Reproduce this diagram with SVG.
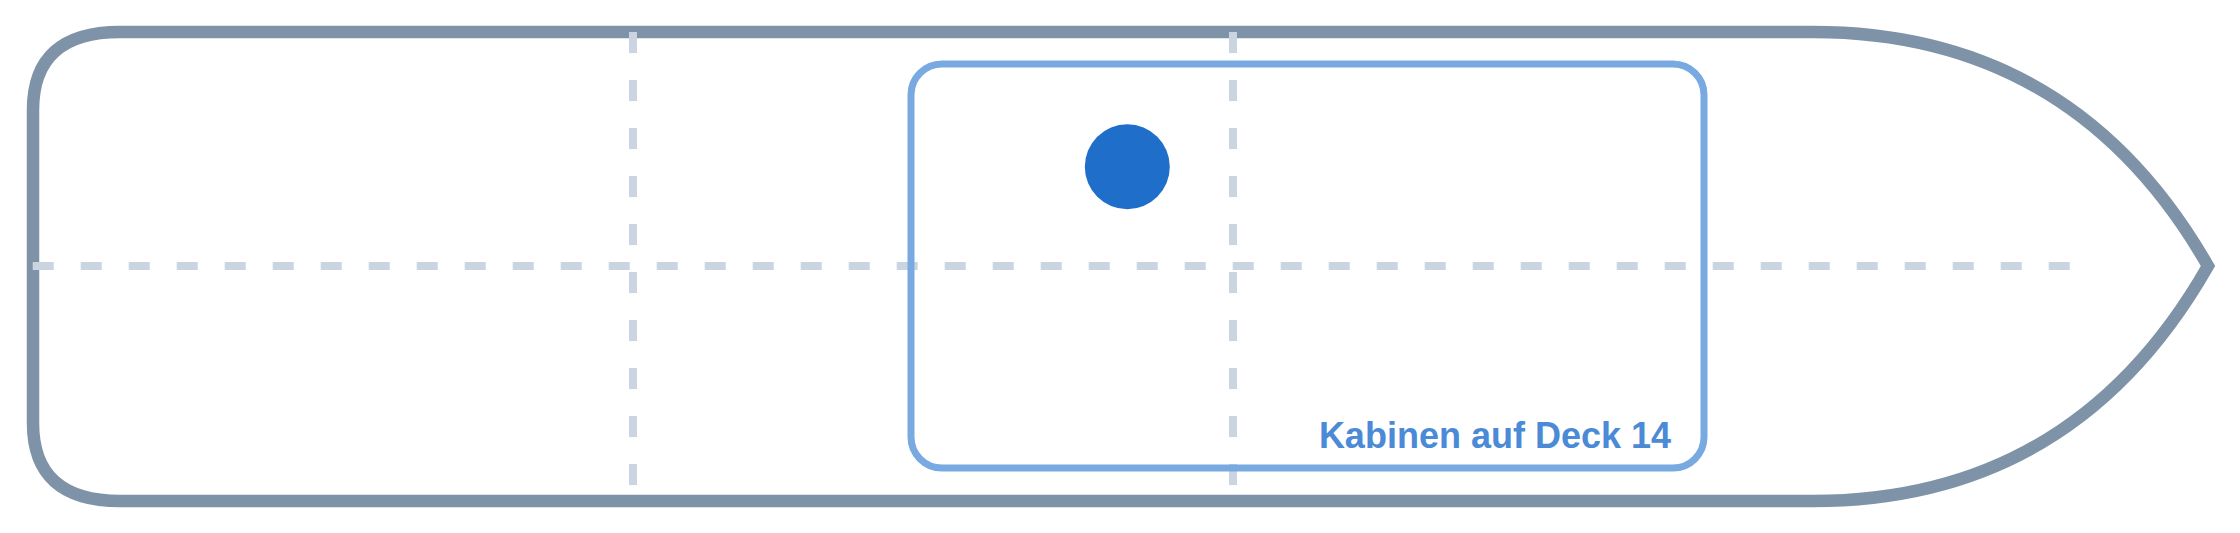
<svg xmlns="http://www.w3.org/2000/svg" width="2240" height="533" viewBox="0 0 2240 533">
  <style>
    .hull { fill: #ffffff; stroke: #7f93a8; stroke-width: 12.5; stroke-linejoin: miter; }
    .grid { fill: none; stroke: #cbd5e1; stroke-width: 8; stroke-dasharray: 21 27; }
    .cabin { fill: none; stroke: #78a9e0; stroke-width: 7; }
    .label { font-family: "Liberation Sans", Arial, sans-serif; font-size: 36px; font-weight: bold; fill: #4a8ad6; }
    .dot { fill: #1f6fca; }
  </style>
  <rect width="2240" height="533" fill="#ffffff"/>
  <g id="hull">
    <path class="hull" d="M 120 32 L 1813 32 Q 2074 32 2208 266 Q 2074 501 1813 501 L 120 501 Q 33 501 33 423 L 33 110 Q 33 32 120 32 Z"/>
  </g>
  <g id="grid">
    <line class="grid" x1="32.7" y1="266" x2="2080" y2="266"/>
    <line class="grid" x1="633" y1="32" x2="633" y2="501"/>
    <line class="grid" x1="1233" y1="32" x2="1233" y2="501"/>
  </g>
  <g id="cabins">
    <rect class="cabin" x="911" y="64" width="793" height="404" rx="31" ry="31"/>
    <text class="label" x="1671" y="447.7" text-anchor="end">Kabinen auf Deck 14</text>
  </g>
  <g id="marker">
    <circle class="dot" cx="1127.3" cy="166.7" r="42.5"/>
  </g>
</svg>
